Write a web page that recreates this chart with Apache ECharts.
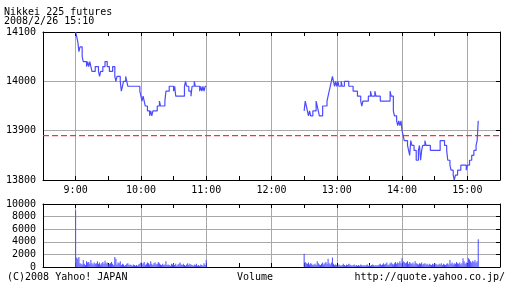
<!DOCTYPE html>
<html><head><meta charset="utf-8">
<script src="https://cdn.jsdelivr.net/npm/echarts@6/dist/echarts.min.js"></script>
<style>html,body{margin:0;padding:0;background:#fff}#c{width:512px;height:288px}</style>
</head><body><div id="c"></div>
<script>
const title1 = 'Nikkei 225 futures';
const title2 = '2008/2/26 15:10';
const footLeft = '(C)2008 Yahoo! JAPAN';
const footMid = 'Volume';
const footRight = 'http://quote.yahoo.co.jp/';
const prevClose = 13890;
// time axis: minutes after 9:00
const hourLabels = ['9:00','10:00','11:00','12:00','13:00','14:00','15:00'];
const amTimes  = [0,1,2,3,4,6,7,10,11,12,13,14,15,18,21,22,23,25,27,29,31,34,36,37,38,41,42,43,44,46,47,48,59,60,61,62,63,64,66,68,69,70,71,75,77,78,82,83,86,90,91,92,100,101,102,104,106,107,109,110,114,115,116,117,118,119,120];
const amPrices = [14100,14090,14080,14060,14070,14050,14040,14030,14040,14030,14040,14030,14020,14030,14020,14010,14020,14030,14040,14030,14020,14030,14010,14000,14010,14000,13980,13990,14000,14010,14000,13990,13980,13970,13960,13970,13960,13950,13940,13930,13940,13930,13940,13950,13960,13950,13960,13980,13990,13980,13990,13970,13990,14000,13990,13980,13970,13990,14000,13990,13980,13990,13980,13990,13980,13990,13990];
const pmTimes  = [210,211,212,213,214,215,216,218,221,222,223,224,227,231,232,233,234,235,236,237,238,239,240,241,242,244,245,247,251,255,259,262,263,264,269,271,272,275,276,280,289,290,292,293,295,296,297,298,299,300,301,302,305,306,307,308,309,311,313,315,316,317,318,319,321,322,326,335,339,341,342,344,345,347,348,349,351,354,359,360,362,364,366,368,369,370];
const pmPrices = [13940,13960,13950,13940,13930,13940,13930,13940,13960,13950,13940,13930,13950,13960,13970,13980,13990,14000,14010,14000,13990,14000,13990,14000,13990,14000,13990,14000,13990,13980,13970,13960,13950,13960,13970,13980,13970,13980,13970,13960,13980,13970,13940,13930,13920,13910,13920,13910,13920,13900,13890,13880,13870,13860,13850,13880,13870,13860,13840,13860,13870,13840,13860,13870,13880,13870,13860,13880,13870,13860,13840,13830,13820,13810,13800,13810,13820,13830,13820,13830,13840,13850,13860,13870,13880,13920];
// volume per minute, morning from 9:00, afternoon from 12:30
const volAMStart = 0;
const volAM = [9000,1500,1300,1600,600,500,400,1100,500,300,
 900,700,800,500,1100,600,400,700,500,600,
 900,500,700,400,600,800,500,1000,600,700,
 400,500,600,800,500,300,1600,1300,400,700,
 600,900,300,500,400,200,300,500,600,300,
 400,300,200,400,300,200,300,200,400,500,
 700,400,600,800,300,500,700,600,400,900,
 500,300,600,700,400,500,800,600,400,300,
 500,300,400,900,300,400,300,200,500,400,
 600,300,500,200,400,500,700,400,300,500,
 300,200,400,600,300,500,400,300,200,400,
 300,500,200,300,200,400,300,200,600,300,
 1100];
const volPMStart = 210;
const volPM = [2100,800,600,500,700,400,600,500,300,400,
 500,300,900,600,400,300,500,700,400,600,
 800,500,1300,600,400,700,1500,500,300,400,
 300,200,400,300,200,300,500,300,200,400,
 300,500,400,300,200,300,400,200,300,200,
 300,200,400,300,200,300,200,300,400,200,
 300,200,300,400,300,200,300,200,300,400,
 500,300,400,600,400,500,700,300,400,600,
 700,500,400,600,800,500,700,600,900,600,
 1400,900,800,600,700,900,500,800,600,500,
 700,400,900,600,500,400,600,500,700,400,
 500,600,400,500,300,500,400,300,500,400,
 600,500,400,300,500,400,600,300,500,400,
 300,500,600,400,1100,500,700,400,600,500,
 800,600,500,700,400,600,1400,900,500,700,
 600,1400,1200,900,700,1000,800,1100,700,900,
 4400];

const FONT = 'DejaVu Sans Mono';
const BLUE = '#4c4cff';
const RED = '#ff3030';
const GRID = '#a8a8a8';
const X_MIN = -30, X_MAX = 390;
const hourFmt = v => (v % 60 === 0 && v >= 0) ? hourLabels[v / 60] : '';

function xAx(gridIndex, position, showLabel, showSplit) {
  return {
    type: 'value', gridIndex, position, min: X_MIN, max: X_MAX, interval: 30,
    axisLine: {show: true, onZero: false, lineStyle: {color: '#000', width: 1}},
    axisTick: {show: true, inside: true, length: 4, lineStyle: {color: '#000'}},
    axisLabel: {show: showLabel, formatter: hourFmt, color: '#000', fontFamily: FONT, fontSize: 10, margin: 5, showMinLabel: true, showMaxLabel: true},
    splitLine: {show: showSplit, lineStyle: {color: ['rgba(0,0,0,0)', GRID], width: 1}}
  };
}
function yAx(gridIndex, position, min, max, interval, showLabel, showTicks) {
  return {
    type: 'value', gridIndex, position, min, max, interval,
    axisLine: {show: true, onZero: false, lineStyle: {color: '#000', width: 1}},
    axisTick: {show: showTicks, inside: true, length: 4, lineStyle: {color: '#000'}},
    axisLabel: {show: showLabel, formatter: v => String(v), color: '#000', fontFamily: FONT, fontSize: 10, margin: 7},
    splitLine: {show: position === 'left', lineStyle: {color: GRID, width: 1}}
  };
}

const chart = echarts.init(document.getElementById('c'), null, {renderer: 'canvas'});
chart.setOption({
  animation: false,
  backgroundColor: '#fff',
  grid: [
    {left: 43, right: 12, top: 32, height: 148},
    {left: 43, right: 12, top: 204, height: 63}
  ],
  xAxis: [
    xAx(0, 'bottom', true, true),
    xAx(0, 'top', false, false),
    xAx(1, 'bottom', false, true),
    xAx(1, 'top', false, false)
  ],
  yAxis: [
    yAx(0, 'left', 13800, 14100, 100, true, false),
    yAx(0, 'right', 13800, 14100, 100, false, true),
    yAx(1, 'left', 0, 10000, 2000, true, false),
    yAx(1, 'right', 0, 10000, 2000, false, true)
  ],
  graphic: [
    {type: 'text', left: 4, top: 7, style: {text: title1, font: '10px "' + FONT + '"', fill: '#000'}},
    {type: 'text', left: 4, top: 16, style: {text: title2, font: '10px "' + FONT + '"', fill: '#000'}},
    {type: 'text', left: 7, top: 272, style: {text: footLeft, font: '10px "' + FONT + '"', fill: '#000'}},
    {type: 'text', left: 237, top: 272, style: {text: footMid, font: '10px "' + FONT + '"', fill: '#000'}},
    {type: 'text', right: 7, top: 272, style: {text: footRight, font: '10px "' + FONT + '"', fill: '#000'}}
  ],
  series: [
    {
      type: 'line', xAxisIndex: 0, yAxisIndex: 0, showSymbol: false, symbol: 'none', silent: true,
      color: RED,
      lineStyle: {color: RED, type: [6, 3], width: 1.4}, itemStyle: {color: RED},
      data: [[X_MIN, prevClose], [X_MAX, prevClose]], z: 2
    },
    {
      type: 'line', xAxisIndex: 0, yAxisIndex: 0, step: 'end', showSymbol: false, symbol: 'none',
      color: BLUE, lineStyle: {color: BLUE, width: 1.2}, itemStyle: {color: BLUE},
      data: amTimes.map((t, i) => [t, amPrices[i]]), z: 3
    },
    {
      type: 'line', xAxisIndex: 0, yAxisIndex: 0, step: 'end', showSymbol: false, symbol: 'none',
      color: BLUE, lineStyle: {color: BLUE, width: 1.2}, itemStyle: {color: BLUE},
      data: pmTimes.map((t, i) => [t, pmPrices[i]]), z: 3
    },
    {
      type: 'bar', xAxisIndex: 2, yAxisIndex: 2, barWidth: 1, color: BLUE, itemStyle: {color: BLUE},
      data: volAM.map((v, i) => [volAMStart + i, v]).concat(volPM.map((v, i) => [volPMStart + i, v]))
    }
  ]
});
</script></body></html>
